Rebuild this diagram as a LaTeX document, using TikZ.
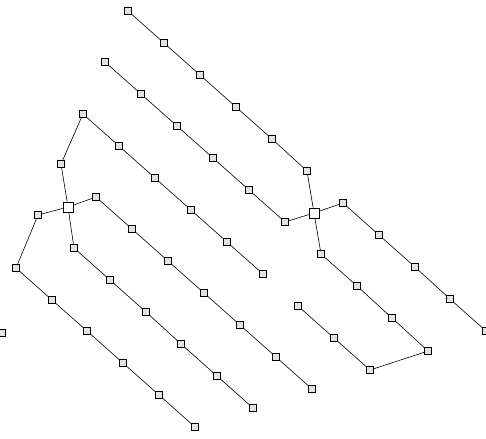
\documentclass[tikz,border=0pt]{standalone}
\usepackage{xcolor}
\usepackage{tikz}
\usetikzlibrary{positioning}

\tikzset{
    unit/.style={draw=black,fill=gray!22,line width=0.6pt,minimum size=7pt,inner sep=0pt},
    hub/.style={draw=black,fill=white,line width=0.7pt,minimum size=10pt,inner sep=0pt},
    wire/.style={black,line width=0.6pt}
}

\begin{document}
\begin{tikzpicture}[x=1pt,y=-1pt]
        \useasboundingbox (0,0) rectangle (486,438);
        % hubs
        \node[hub] (hubL) at (68,207) {};
        \node[hub] (hubR) at (314,213) {};
        % upper chains
        \node[unit] (a1) at (128,11) {};
        \node[unit] (a2) at (164,43) {};
        \node[unit] (a3) at (200,75) {};
        \node[unit] (a4) at (236,107) {};
        \node[unit] (a5) at (272,139) {};
        \node[unit] (a6) at (307,171) {};
        \node[unit] (b1) at (105,62) {};
        \node[unit] (b2) at (141,94) {};
        \node[unit] (b3) at (177,126) {};
        \node[unit] (b4) at (213,158) {};
        \node[unit] (b5) at (249,190) {};
        \node[unit] (b6) at (285,222) {};
        % right side
        \node[unit] (c1) at (343,203) {};
        \node[unit] (c2) at (379,235) {};
        \node[unit] (c3) at (415,267) {};
        \node[unit] (c4) at (450,299) {};
        \node[unit] (c5) at (486,331) {};
        \node[unit] (d1) at (321,254) {};
        \node[unit] (d2) at (357,286) {};
        \node[unit] (d3) at (392,318) {};
        \node[unit] (d4) at (428,351) {};
        \node[unit] (d5) at (370,370) {};
        \node[unit] (d6) at (334,338) {};
        \node[unit] (d7) at (298,306) {};
        % left side
        \node[unit] (e1) at (61,164) {};
        \node[unit] (e2) at (83,114) {};
        \node[unit] (e3) at (119,146) {};
        \node[unit] (e4) at (155,178) {};
        \node[unit] (e5) at (191,210) {};
        \node[unit] (e6) at (227,242) {};
        \node[unit] (e7) at (263,274) {};
        \node[unit] (f1) at (96,197) {};
        \node[unit] (f2) at (132,229) {};
        \node[unit] (f3) at (168,261) {};
        \node[unit] (f4) at (204,293) {};
        \node[unit] (f5) at (240,325) {};
        \node[unit] (f6) at (276,357) {};
        \node[unit] (f7) at (312,389) {};
        \node[unit] (g1) at (74,248) {};
        \node[unit] (g2) at (110,280) {};
        \node[unit] (g3) at (146,312) {};
        \node[unit] (g4) at (181,344) {};
        \node[unit] (g5) at (217,376) {};
        \node[unit] (g6) at (253,408) {};
        \node[unit] (h1) at (38,215) {};
        \node[unit] (h2) at (16,268) {};
        \node[unit] (h3) at (52,300) {};
        \node[unit] (h4) at (87,331) {};
        \node[unit] (h5) at (123,363) {};
        \node[unit] (h6) at (159,395) {};
        \node[unit] (h7) at (195,427) {};
        \node[unit] (lone) at (2,333) {};
        % links
        \draw[wire] (a1) -- (a2) -- (a3) -- (a4) -- (a5) -- (a6) -- (hubR);
        \draw[wire] (b1) -- (b2) -- (b3) -- (b4) -- (b5) -- (b6) -- (hubR);
        \draw[wire] (hubR) -- (c1) -- (c2) -- (c3) -- (c4) -- (c5);
        \draw[wire] (hubR) -- (d1) -- (d2) -- (d3) -- (d4) -- (d5) -- (d6) -- (d7);
        \draw[wire] (hubL) -- (e1) -- (e2) -- (e3) -- (e4) -- (e5) -- (e6) -- (e7);
        \draw[wire] (hubL) -- (f1) -- (f2) -- (f3) -- (f4) -- (f5) -- (f6) -- (f7);
        \draw[wire] (hubL) -- (g1) -- (g2) -- (g3) -- (g4) -- (g5) -- (g6);
        \draw[wire] (hubL) -- (h1) -- (h2) -- (h3) -- (h4) -- (h5) -- (h6) -- (h7);
    \end{tikzpicture}
\end{document}
